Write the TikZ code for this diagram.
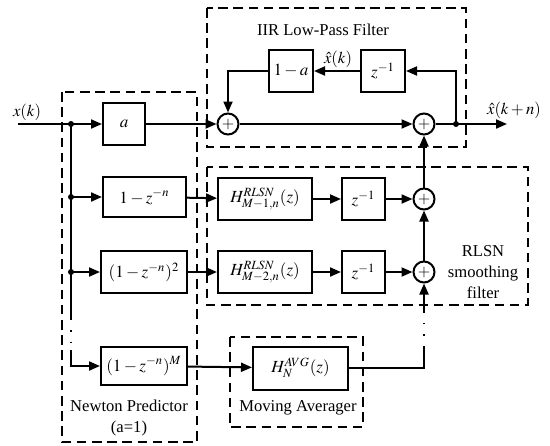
\documentclass[tikz,border=0pt]{standalone}
\usepackage{mathptmx}
\usepackage{fontspec}
\setmainfont{Liberation Serif}
\usetikzlibrary{arrows.meta,positioning}
\tikzset{
  block/.style={rectangle,draw,line width=1pt,fill=white,inner sep=0pt,
                font=\fontsize{8.5}{10}\selectfont},
  sumnode/.style={circle,draw,line width=1pt,fill=white,minimum size=10.5pt,
                  inner sep=0pt,font=\fontsize{8}{8}\selectfont},
  frame/.style={line width=1.1pt,dash pattern=on 4.8pt off 2.8pt},
  sig/.style={-{Triangle[length=5.5pt,width=4.5pt]},line width=1pt},
  wire/.style={line width=1pt},
  dotwire/.style={line width=1pt,dash pattern=on 0.9pt off 5pt},
  junc/.style={circle,fill,inner sep=0pt,minimum size=3pt},
  lbl/.style={font=\fontsize{8.3}{10.5}\selectfont,align=center},
}
\begin{document}
\begin{tikzpicture}[x=0.5pt,y=-0.5pt]
  \useasboundingbox (0,0) rectangle (550,445);
  % dashed group frames
  \draw[frame] (62,92) rectangle (197,442);
  \draw[frame] (207,8) rectangle (466,147);
  \draw[frame] (207,167) rectangle (528,305);
  \draw[frame] (230,337) rectangle (363,427);
  % newton predictor branches
  \coordinate (xin) at (18,124);
  \coordinate (j1) at (71,124);
  \coordinate (j2) at (71,197);
  \coordinate (j3) at (71,272);
  \coordinate (d1) at (71,318);
  \coordinate (d2) at (71,350);
  \node[block,minimum width=21pt,minimum height=21pt] (a) at (124,124) {$a$};
  \node[block,minimum width=41.5pt,minimum height=20pt] (np1) at (144.5,197) {$1-z^{-n}$};
  \node[block,minimum width=43pt,minimum height=21pt] (np2) at (144,272) {$(1-z^{-n})^2$};
  \node[block,minimum width=43pt,minimum height=19pt] (npM) at (144,366) {$(1-z^{-n})^M$};
  % IIR low-pass filter
  \node[sumnode] (sum1) at (228,124) {$+$};
  \node[sumnode] (sum2) at (424,124) {$+$};
  \node[block,minimum width=22pt,minimum height=21pt] (oma) at (291,71) {$1-a$};
  \node[block,minimum width=22pt,minimum height=21pt] (zi) at (383,71) {$z^{-1}$};
  \coordinate (jo) at (456,124);
  \coordinate (out) at (507,124);
  % RLSN smoothing filter
  \node[block,minimum width=47pt,minimum height=21pt] (h1) at (265,199) {$H^{RLSN}_{M-1,n}(z)$};
  \node[block,minimum width=21.5pt,minimum height=21pt] (z1) at (363.5,199) {$z^{-1}$};
  \node[sumnode] (sum3) at (424,199) {$+$};
  \node[block,minimum width=47pt,minimum height=21pt] (h2) at (265,272) {$H^{RLSN}_{M-2,n}(z)$};
  \node[block,minimum width=21.5pt,minimum height=21pt] (z2) at (363.5,272) {$z^{-1}$};
  \node[sumnode] (sum4) at (424,272) {$+$};
  % moving averager
  \node[block,minimum width=47.5pt,minimum height=21.5pt] (havg) at (300.5,368) {$H^{AVG}_{N}(z)$};
  \coordinate (d3) at (424,348);
  \coordinate (d4) at (424,312);
  % signal paths
  \draw[sig] (xin) -- (a);
  \draw[sig] (a) -- (sum1);
  \draw[sig] (sum1) -- (sum2);
  \draw[sig] (sum2) -- (out);
  \draw[sig] (jo) |- (zi);
  \draw[sig] (zi) -- (oma);
  \draw[sig] (oma) -| (sum1);
  \draw[wire] (j1) -- (d1);
  \draw[dotwire] (d1) -- (d2);
  \draw[sig] (d2) |- (npM);
  \draw[sig] (j2) -- (np1);
  \draw[sig] (j3) -- (np2);
  \draw[sig] (np1) -- (h1);
  \draw[sig] (h1) -- (z1);
  \draw[sig] (z1) -- (sum3);
  \draw[sig] (np2) -- (h2);
  \draw[sig] (h2) -- (z2);
  \draw[sig] (z2) -- (sum4);
  \draw[sig] (sum4) -- (sum3);
  \draw[sig] (sum3) -- (sum2);
  \draw[sig] (npM) -- (havg);
  \draw[wire] (havg) -| (d3);
  \draw[dotwire] (d3) -- (d4);
  \draw[sig] (d4) -- (sum4);
  % junction dots
  \node[junc] (dj1) at (j1) {};
  \node[junc] (dj2) at (j2) {};
  \node[junc] (dj3) at (j3) {};
  \node[junc] (djo) at (jo) {};
  % labels
  \node[lbl] (lx) at (27,112) {$x(k)$};
  \node[lbl] (lxh) at (338,59) {$\hat{x}(k)$};
  \node[lbl] (lout) at (514,110) {$\hat{x}(k+n)$};
  \node[lbl] (tiir) at (323,30) {IIR Low-Pass Filter};
  \node[lbl] (trlsn) at (483,272) {RLSN\\smoothing\\filter};
  \node[lbl] (tavg) at (298,408) {Moving Averager};
  \node[lbl] (tnp) at (129,418) {Newton Predictor\\(a=1)};
\end{tikzpicture}
\end{document}
